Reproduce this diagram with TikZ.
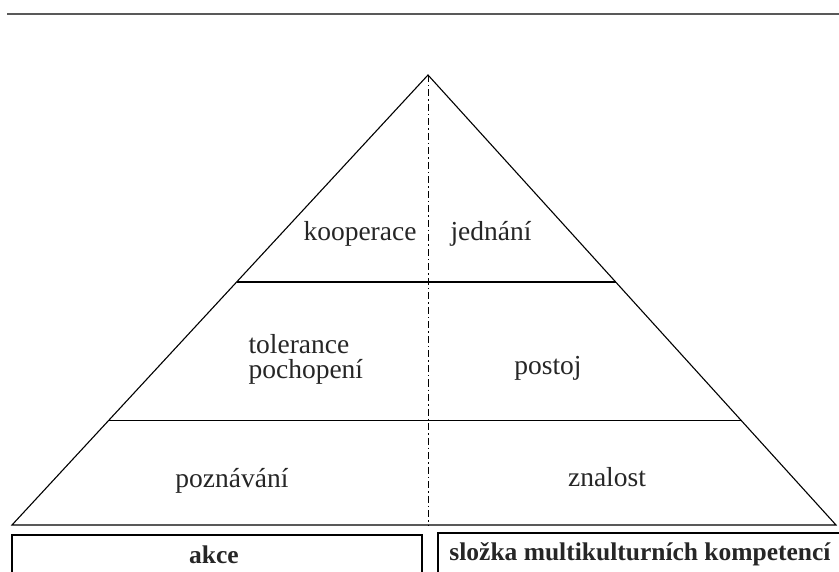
\documentclass[tikz,border=0pt]{standalone}
\usepackage{fontspec}
\setmainfont{Liberation Serif}
\usetikzlibrary{calc}
\begin{document}
\begin{tikzpicture}[x=1pt, y=-1pt, line width=1.1pt,
    lbl/.style={font=\fontsize{27.5}{25}\selectfont, inner sep=0pt, text=black!85},
    head/.style={font=\bfseries\fontsize{25.5}{28}\selectfont, inner sep=0pt, text=black!85},
    axis/.style={line width=1pt, dash pattern=on 7pt off 3pt on 1.5pt off 3pt}]
    \clip (0,0) rectangle (839,572);
    % frame line on top
    \draw[line width=1.4pt, black!65] (7,14) -- (839,14);
    % pyramid
    \coordinate (apex) at (428,75);
    \coordinate (bl) at (12,525);
    \coordinate (br) at (836,525);
    \coordinate (bm) at (428,525);
    \draw (bl) -- (apex) -- (br) -- cycle;
    \draw ($(apex)!0.46!(bl)$) -- ($(apex)!0.46!(br)$);
    \draw ($(apex)!0.767!(bl)$) -- ($(apex)!0.767!(br)$);
    \draw[axis] (apex) -- (bm);
    % layer labels
    \node[lbl, anchor=base] (koop) at (360,241) {kooperace};
    \node[lbl, anchor=base] (jedn) at (491,241) {jednání};
    \node[lbl, anchor=west, align=left] (tol) at (248,359) {tolerance\\pochopení};
    \node[lbl, anchor=base] (post) at (548,375) {postoj};
    \node[lbl, anchor=base] (pozn) at (232,487) {poznávání};
    \node[lbl, anchor=base] (znal) at (607,486) {znalost};
    % boxes under the pyramid
    \draw (12,600) -- (12,535) -- (422,535) -- (422,600);
    \draw (438,600) -- (438,533) -- (845,533);
    \node[head, anchor=base] (akce) at (214,563) {akce};
    \node[head, anchor=base] (slozka) at (640,560) {složka multikulturních kompetencí};
\end{tikzpicture}
\end{document}
